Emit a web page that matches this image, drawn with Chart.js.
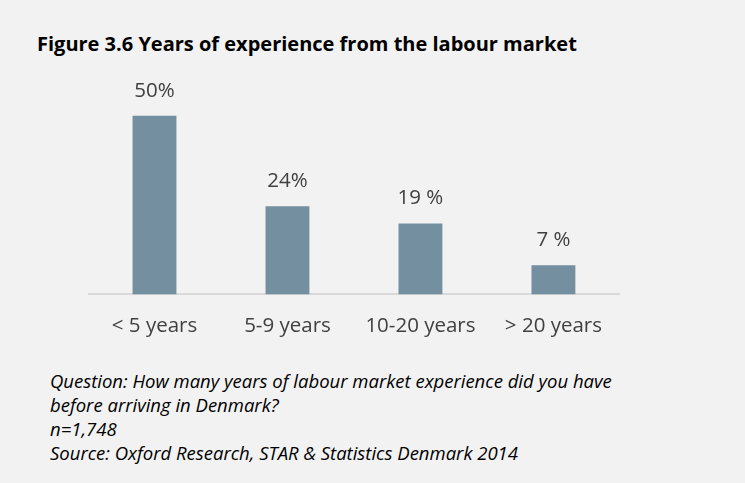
<!DOCTYPE html>
<html>
<head>
<meta charset="utf-8">
<script src="https://cdn.jsdelivr.net/npm/chart.js@4"></script>
<style>
  html, body { margin: 0; padding: 0; }
  body { width: 745px; height: 483px; background: #f2f2f2; position: relative; overflow: hidden; font-family: "Open Sans", sans-serif; }
  #title { position: absolute; left: 37px; top: 32px; font-size: 20px; line-height: 24px; font-weight: bold; color: #000; white-space: nowrap; }
  #box { position: absolute; left: 88px; top: 79px; width: 533px; height: 278px; }
  #notes { position: absolute; left: 50px; top: 369px; font-size: 18.5px; font-style: italic; line-height: 24px; color: #000; white-space: nowrap; }
</style>
</head>
<body>
<div id="title">Figure 3.6 Years of experience from the labour market</div>
<div id="box"><canvas id="chart"></canvas></div>
<div id="notes">
  Question: How many years of labour market experience did you have<br>
  before arriving in Denmark?<br>
  n=1,748<br>
  Source: Oxford Research, STAR &amp; Statistics Denmark 2014
</div>
<script>
const categories = ["< 5 years", "5-9 years", "10-20 years", "> 20 years"];
const shares = [50, 24, 19, 7];
const shareLabels = ["50%", "24%", "19 %", "7 %"];

const ctx = document.getElementById("chart");

// draws the value text above each bar
const valueLabels = {
  id: "valueLabels",
  afterDatasetsDraw(chart) {
    const c = chart.ctx;
    const meta = chart.getDatasetMeta(0);
    c.save();
    c.font = "20.5px 'Open Sans', sans-serif";
    c.fillStyle = "#404040";
    c.textAlign = "center";
    c.textBaseline = "middle";
    meta.data.forEach((bar, i) => {
      c.fillText(shareLabels[i], bar.x, bar.y - 25);
    });
    c.restore();
  },
};

new Chart(ctx, {
  type: "bar",
  data: {
    labels: categories,
    datasets: [
      {
        data: shares,
        base: -1.4,
        backgroundColor: "#738fa0",
        barPercentage: 0.33,
        categoryPercentage: 1,
      },
    ],
  },
  options: {
    responsive: true,
    maintainAspectRatio: false,
    animation: false,
    layout: { padding: 0 },
    plugins: {
      legend: { display: false },
      tooltip: { enabled: false },
    },
    scales: {
      x: {
        grid: { display: false, drawTicks: false },
        border: { display: true, color: "#d9d9d9", width: 2 },
        ticks: {
          color: "#404040",
          font: { family: "'Open Sans', sans-serif", size: 20.5 },
          padding: 19,
          maxRotation: 0,
        },
      },
      y: {
        display: false,
        min: -1.4,
        max: 60.6,
      },
    },
  },
  plugins: [valueLabels],
});
</script>
</body>
</html>
